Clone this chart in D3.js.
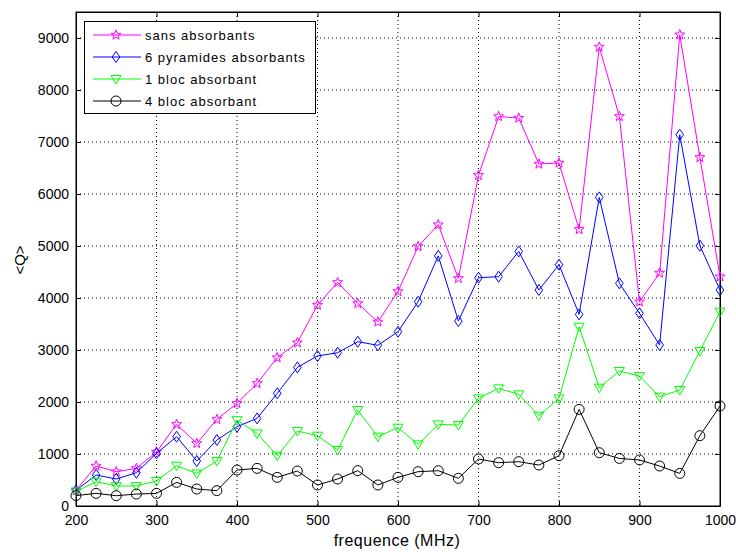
<!DOCTYPE html>
<html>
<head>
<meta charset="utf-8">
<script src="https://cdn.jsdelivr.net/npm/d3@7"></script>
<style>
  html, body { margin: 0; padding: 0; background: #fff; }
  svg { display: block; font-family: "Liberation Sans", Arial, sans-serif; }
</style>
</head>
<body>
<svg id="chart" width="736" height="552"></svg>
<script>
// Frequency points (MHz)
const frequencies = [200, 225, 250, 275, 300, 325, 350, 375, 400, 425, 450, 475, 500, 525, 550, 575,
  600, 625, 650, 675, 700, 725, 750, 775, 800, 825, 850, 875, 900, 925, 950, 975, 1000];

// Mean quality factor <Q> per configuration
const sansAbsorbants = [300, 770, 660, 723, 1040, 1570, 1204, 1665, 1973, 2358, 2852, 3140, 3865, 4300, 3896, 3540,
  4125, 4992, 5410, 4377, 6358, 7490, 7460, 6577, 6596, 5320, 8827, 7492, 3929, 4481, 9063, 6704, 4410];
const pyramides6 = [300, 596, 519, 640, 1012, 1333, 865, 1269, 1525, 1685, 2166, 2666, 2885, 2948, 3160, 3090,
  3352, 3929, 4810, 3557, 4390, 4410, 4896, 4154, 4640, 3685, 5935, 4282, 3705, 3096, 7140, 5006, 4154];
const bloc1 = [280, 467, 385, 385, 481, 775, 627, 865, 1650, 1396, 967, 1442, 1352, 1077, 1846, 1333,
  1506, 1185, 1570, 1557, 2070, 2262, 2147, 1737, 2070, 3448, 2275, 2596, 2500, 2102, 2230, 2981, 3737];
const bloc4 = [200, 243, 198, 230, 243, 455, 327, 295, 692, 724, 551, 673, 404, 519, 679, 404,
  551, 660, 679, 532, 904, 833, 852, 788, 967, 1858, 1025, 915, 885, 769, 627, 1352, 1923];

const xTicks = [200, 300, 400, 500, 600, 700, 800, 900, 1000];
const yTicks = [0, 1000, 2000, 3000, 4000, 5000, 6000, 7000, 8000, 9000];

const seriesNames = ["sans absorbants", "6 pyramides absorbants", "1 bloc absorbant", "4 bloc absorbant"];
const seriesValues = [sansAbsorbants, pyramides6, bloc1, bloc4];
const seriesColors = ["#ff00ff", "#0000ff", "#00ff00", "#000000"];
const seriesMarkers = ["star", "diamond", "triangleDown", "circle"];

const svg = d3.select("#chart");
const plotL = 76, plotR = 720, plotT = 12, plotB = 506;

const x = d3.scaleLinear().domain([200, 1000]).range([plotL, plotR]);
const y = d3.scaleLinear().domain([0, 9500]).range([plotB, plotT]);

// Marker shapes (centered at origin)
function markerPath(kind) {
  switch (kind) {
    case "star": {
      const R = 5.2, r = 2.2;
      let p = "";
      for (let i = 0; i < 10; i++) {
        const a = -Math.PI / 2 + i * Math.PI / 5;
        const rr = i % 2 === 0 ? R : r;
        p += (i === 0 ? "M" : "L") + (rr * Math.cos(a)).toFixed(2) + "," + (rr * Math.sin(a)).toFixed(2);
      }
      return p + "Z";
    }
    case "diamond":
      return "M0,-5.5L3.8,0L0,5.5L-3.8,0Z";
    case "triangleDown":
      return "M-5,-3.5L5,-3.5L0,5Z";
    default:
      return null;
  }
}

// Grid (dotted)
const grid = svg.append("g");
grid.selectAll("line.gx").data(xTicks.filter(d => d > 200 && d < 1000)).join("line")
  .attr("x1", d => x(d)).attr("x2", d => x(d)).attr("y1", plotT).attr("y2", plotB)
  .attr("stroke", "#000").attr("stroke-width", 1).attr("stroke-dasharray", "1,3");
grid.selectAll("line.gy").data(yTicks.filter(d => d > 0)).join("line")
  .attr("x1", plotL).attr("x2", plotR).attr("y1", d => y(d)).attr("y2", d => y(d))
  .attr("stroke", "#000").attr("stroke-width", 1).attr("stroke-dasharray", "1,3");

// Axes with inward ticks on all four sides
const tickFont = "14px";
const fmt = d3.format("d");
const xAxis = d3.axisBottom(x).tickValues(xTicks).tickFormat(fmt).tickSize(-5).tickPadding(9).tickSizeOuter(0);
const yAxis = d3.axisLeft(y).tickValues(yTicks).tickFormat(fmt).tickSize(-5).tickPadding(7).tickSizeOuter(0);

const gx = svg.append("g").attr("transform", `translate(0,${plotB})`).call(xAxis);
const gy = svg.append("g").attr("transform", `translate(${plotL},0)`).call(yAxis);
const gxTop = svg.append("g").attr("transform", `translate(0,${plotT})`)
  .call(d3.axisTop(x).tickValues(xTicks).tickSize(-5).tickFormat("").tickSizeOuter(0));
const gyRight = svg.append("g").attr("transform", `translate(${plotR},0)`)
  .call(d3.axisRight(y).tickValues(yTicks).tickSize(-5).tickFormat("").tickSizeOuter(0));

[gx, gy, gxTop, gyRight].forEach(g => {
  g.select(".domain").attr("stroke", "#000");
  g.selectAll(".tick line").attr("stroke", "#000");
  g.selectAll("text").attr("fill", "#000").style("font-size", tickFont)
    .style("font-family", "'Liberation Sans', Arial, sans-serif");
});

// Box
svg.append("rect").attr("x", plotL).attr("y", plotT).attr("width", plotR - plotL).attr("height", plotB - plotT)
  .attr("fill", "none").attr("stroke", "#000").attr("stroke-width", 1);

// Series
const line = d3.line().x((d, i) => x(frequencies[i])).y(d => y(d));
seriesValues.forEach((vals, k) => {
  const g = svg.append("g");
  g.append("path").datum(vals).attr("d", line)
    .attr("fill", "none").attr("stroke", seriesColors[k]).attr("stroke-width", 1);
  const pts = g.selectAll("g.m").data(vals).join("g")
    .attr("transform", (d, i) => `translate(${x(frequencies[i])},${y(d)})`);
  if (seriesMarkers[k] === "circle") {
    pts.append("circle").attr("r", 5).attr("fill", "none").attr("stroke", seriesColors[k]).attr("stroke-width", 1);
  } else {
    pts.append("path").attr("d", markerPath(seriesMarkers[k]))
      .attr("fill", "none").attr("stroke", seriesColors[k]).attr("stroke-width", 1);
  }
});

// Legend
const lg = svg.append("g");
lg.append("rect").attr("x", 84.5).attr("y", 21.5).attr("width", 231).attr("height", 92)
  .attr("fill", "#fff").attr("stroke", "#000").attr("stroke-width", 1);
seriesNames.forEach((name, k) => {
  const ly = 35 + k * 22;
  lg.append("line").attr("x1", 93).attr("x2", 141).attr("y1", ly).attr("y2", ly)
    .attr("stroke", seriesColors[k]).attr("stroke-width", 1);
  if (seriesMarkers[k] === "circle") {
    lg.append("circle").attr("cx", 116).attr("cy", ly).attr("r", 5)
      .attr("fill", "none").attr("stroke", seriesColors[k]);
  } else {
    lg.append("path").attr("transform", `translate(116,${ly})`).attr("d", markerPath(seriesMarkers[k]))
      .attr("fill", "none").attr("stroke", seriesColors[k]);
  }
  lg.append("text").attr("x", 145).attr("y", ly + 5).text(name)
    .style("font-size", "13px").style("letter-spacing", "1px").attr("fill", "#000");
});

// Axis labels
svg.append("text").attr("x", 397).attr("y", 546).attr("text-anchor", "middle")
  .style("font-size", "16px").style("letter-spacing", "0.5px").text("frequence (MHz)");
svg.append("text").attr("transform", "translate(25,260) rotate(-90)").attr("text-anchor", "middle")
  .style("font-size", "15px").text("<Q>");
</script>
</body>
</html>
